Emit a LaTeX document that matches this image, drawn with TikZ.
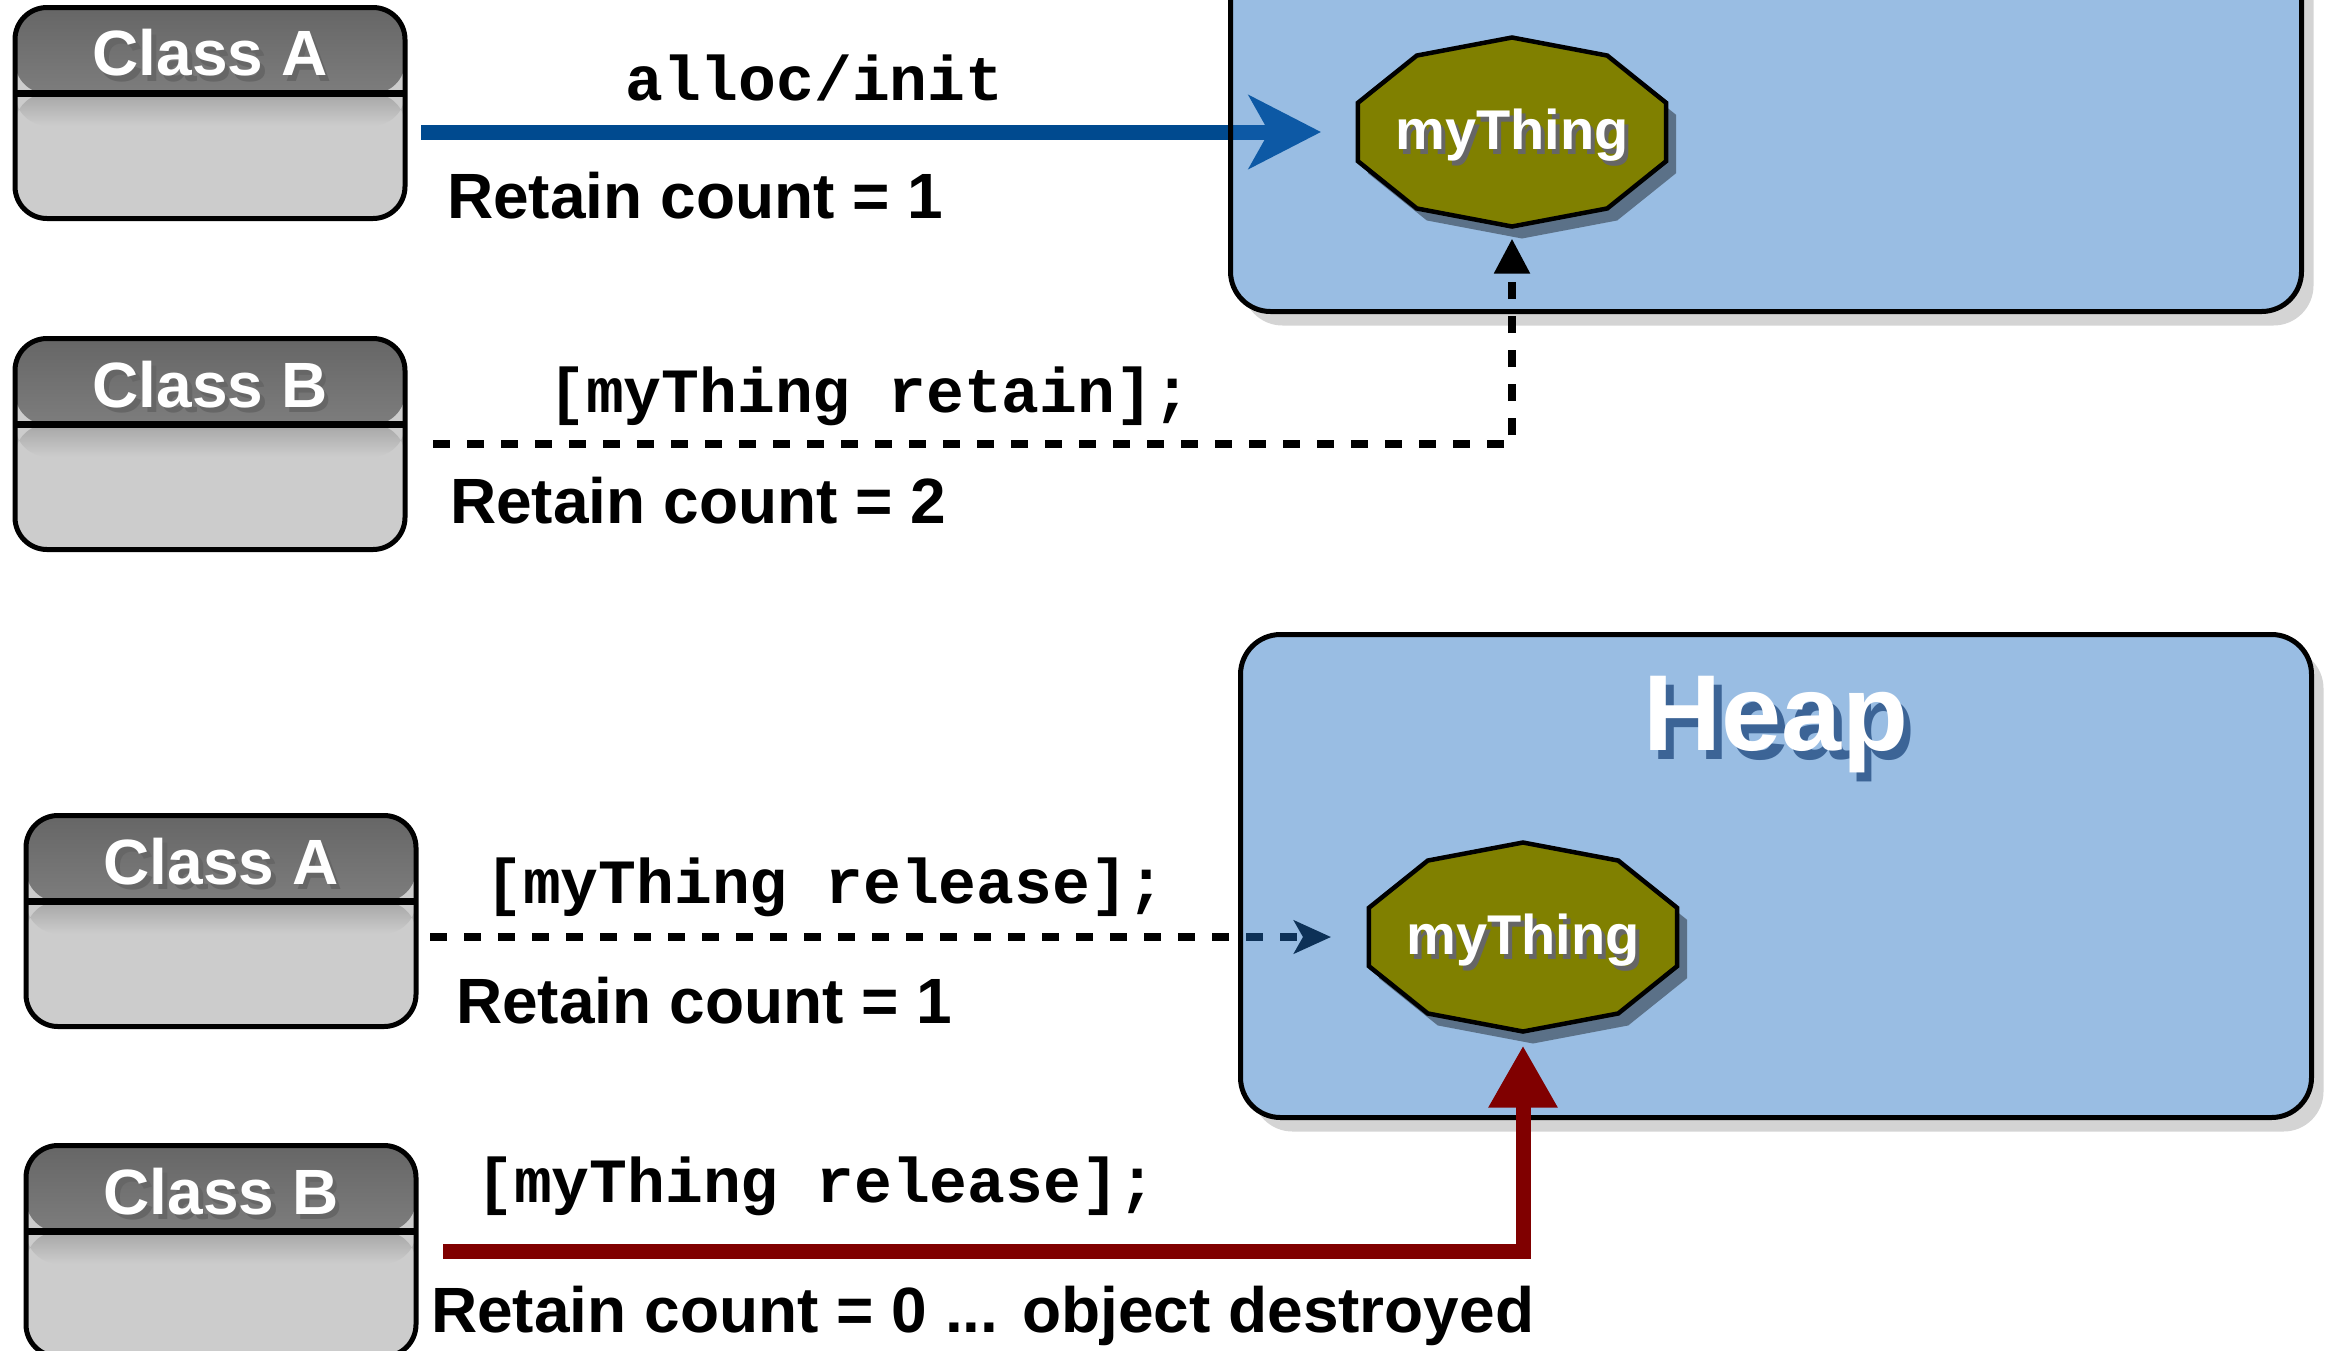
\documentclass[tikz,border=0pt]{standalone}
\usepackage{fontspec}
\setmainfont{Liberation Sans}
\setmonofont{Liberation Mono}
\usetikzlibrary{arrows.meta,shadows,backgrounds}

\definecolor{heapblue}{RGB}{29,109,193}
\definecolor{heapshade}{RGB}{60,100,150}
\definecolor{thingolive}{RGB}{128,128,0}
\definecolor{allocblue}{RGB}{0,74,143}
\definecolor{releasered}{RGB}{128,0,0}

\newcommand{\embossed}[2][black!60]{\rlap{\kern.07em\raisebox{-.09em}{\color{#1}#2}}#2}

\tikzset{
  classbox/.style={draw, line width=5pt, rounded corners=32pt, fill=black!20,
    minimum width=390pt, minimum height=211pt, outer sep=0pt,
    path picture={
      \fill[top color=black!60, bottom color=black!38] (path picture bounding box.north west)
        rectangle ([yshift=-86pt]path picture bounding box.north east);
      \fill[top color=black!35, bottom color=black!20] ([yshift=-86pt]path picture bounding box.north west)
        rectangle ([yshift=-118pt]path picture bounding box.north east);
      \draw[line width=7pt] ([yshift=-86pt]path picture bounding box.north west)
        -- ([yshift=-86pt]path picture bounding box.north east);
    }},
  classname/.style={text=white, font=\fontsize{64}{70}\selectfont\bfseries, yshift=57pt},
  heapbox/.style={draw, line width=5pt, rounded corners=40pt, fill=heapblue, fill opacity=.45,
    minimum width=1071pt, minimum height=483pt, outer sep=0pt},
  thingspot/.style={minimum width=308pt, minimum height=189pt, inner sep=0pt, outer sep=0pt},
  thingline/.style={draw, line width=4.5pt, fill=thingolive,
    drop shadow={shadow xshift=10pt, shadow yshift=-12pt, fill=black, opacity=.4}},
  thingname/.style={text=white, font=\fontsize{56}{60}\selectfont\bfseries, yshift=-6pt},
  codetext/.style={font=\fontsize{63}{70}\selectfont\ttfamily\bfseries, anchor=base west, inner sep=0pt},
  counttext/.style={font=\fontsize{64}{70}\selectfont\bfseries, anchor=base west, inner sep=0pt},
  allocline/.style={allocblue, line width=15pt, shorten <=16pt, shorten >=37pt,
    -{Stealth[length=72pt, width=73pt, inset=20pt]}},
  retainline/.style={black, line width=8pt, dash pattern=on 17pt off 17pt, shorten <=28pt, shorten >=12pt,
    -{Triangle[length=35pt, width=34pt]}},
  releaseline/.style={black, line width=8pt, dash pattern=on 17pt off 17pt, shorten <=14pt, shorten >=38pt,
    -{Stealth[length=37pt, width=33pt, inset=9pt]}},
  destroyline/.style={releasered, line width=15pt, shorten <=27pt, shorten >=14pt,
    -{Triangle[length=62pt, width=65pt]}}
}

\begin{document}
\begin{tikzpicture}[x=1pt, y=-1pt]
\useasboundingbox (0,0) rectangle (2334,1350);

\node[heapbox] (heapA) at (1766,70) {};
\node[heapbox] (heapB) at (1776,876) {};
\node[text=white, font=\fontsize{108}{110}\selectfont\bfseries, anchor=base, inner sep=0pt]
  (heapName) at (1776,750) {\embossed[heapshade]{Heap}};

\node[thingspot] (thingA) at (1512,132) {};
\node[thingspot] (thingB) at (1523,937) {};
\foreach \t in {thingA,thingB}
  \path[thingline, shift={(\t)}] (90:162 and 94.5)
    \foreach \a in {126,162,...,414} { -- (\a:162 and 94.5)} -- cycle;
\node[thingname] (thingAname) at (thingA) {\embossed{myThing}};
\node[thingname] (thingBname) at (thingB) {\embossed{myThing}};

\node[classbox, label={[classname]center:\embossed{Class A}}] (clsA1) at (210,113) {};
\node[classbox, label={[classname]center:\embossed{Class B}}] (clsB1) at (210,444) {};
\node[classbox, label={[classname]center:\embossed{Class A}}] (clsA2) at (221,921) {};
\node[classbox, label={[classname]center:\embossed{Class B}}] (clsB2) at (221,1251) {};

\node[codetext] (allocCode) at (625,100) {alloc/init};
\node[counttext] (countA1) at (447,218) {Retain count = 1};
\node[codetext] (retainCode) at (548,412) {[myThing retain];};
\node[counttext] (countB1) at (450,523) {Retain count = 2};
\node[codetext] (releaseCodeA) at (485,903) {[myThing release];};
\node[counttext] (countA2) at (456,1023) {Retain count = 1};
\node[codetext] (releaseCodeB) at (476,1202) {[myThing release];};
\node[counttext] (countB2) at (431,1332) {Retain count = 0 ... object destroyed};

\draw[retainline] (clsB1.east) -- (clsB1.east -| thingA.south) -- (thingA.south);
\draw[destroyline] (clsB2.east) -- (clsB2.east -| thingB.south) -- (thingB.south);

\begin{scope}[on background layer]
\foreach \h in {heapA,heapB}
  \fill[white, rounded corners=40pt,
    drop shadow={shadow xshift=12pt, shadow yshift=-14pt, fill=black!17, opacity=1}]
    (\h.north west) rectangle (\h.south east);
\draw[allocline] (clsA1.east |- thingA.west) -- (thingA.west);
\draw[releaseline] (clsA2.east |- thingB.west) -- (thingB.west);
\end{scope}
\end{tikzpicture}
\end{document}
